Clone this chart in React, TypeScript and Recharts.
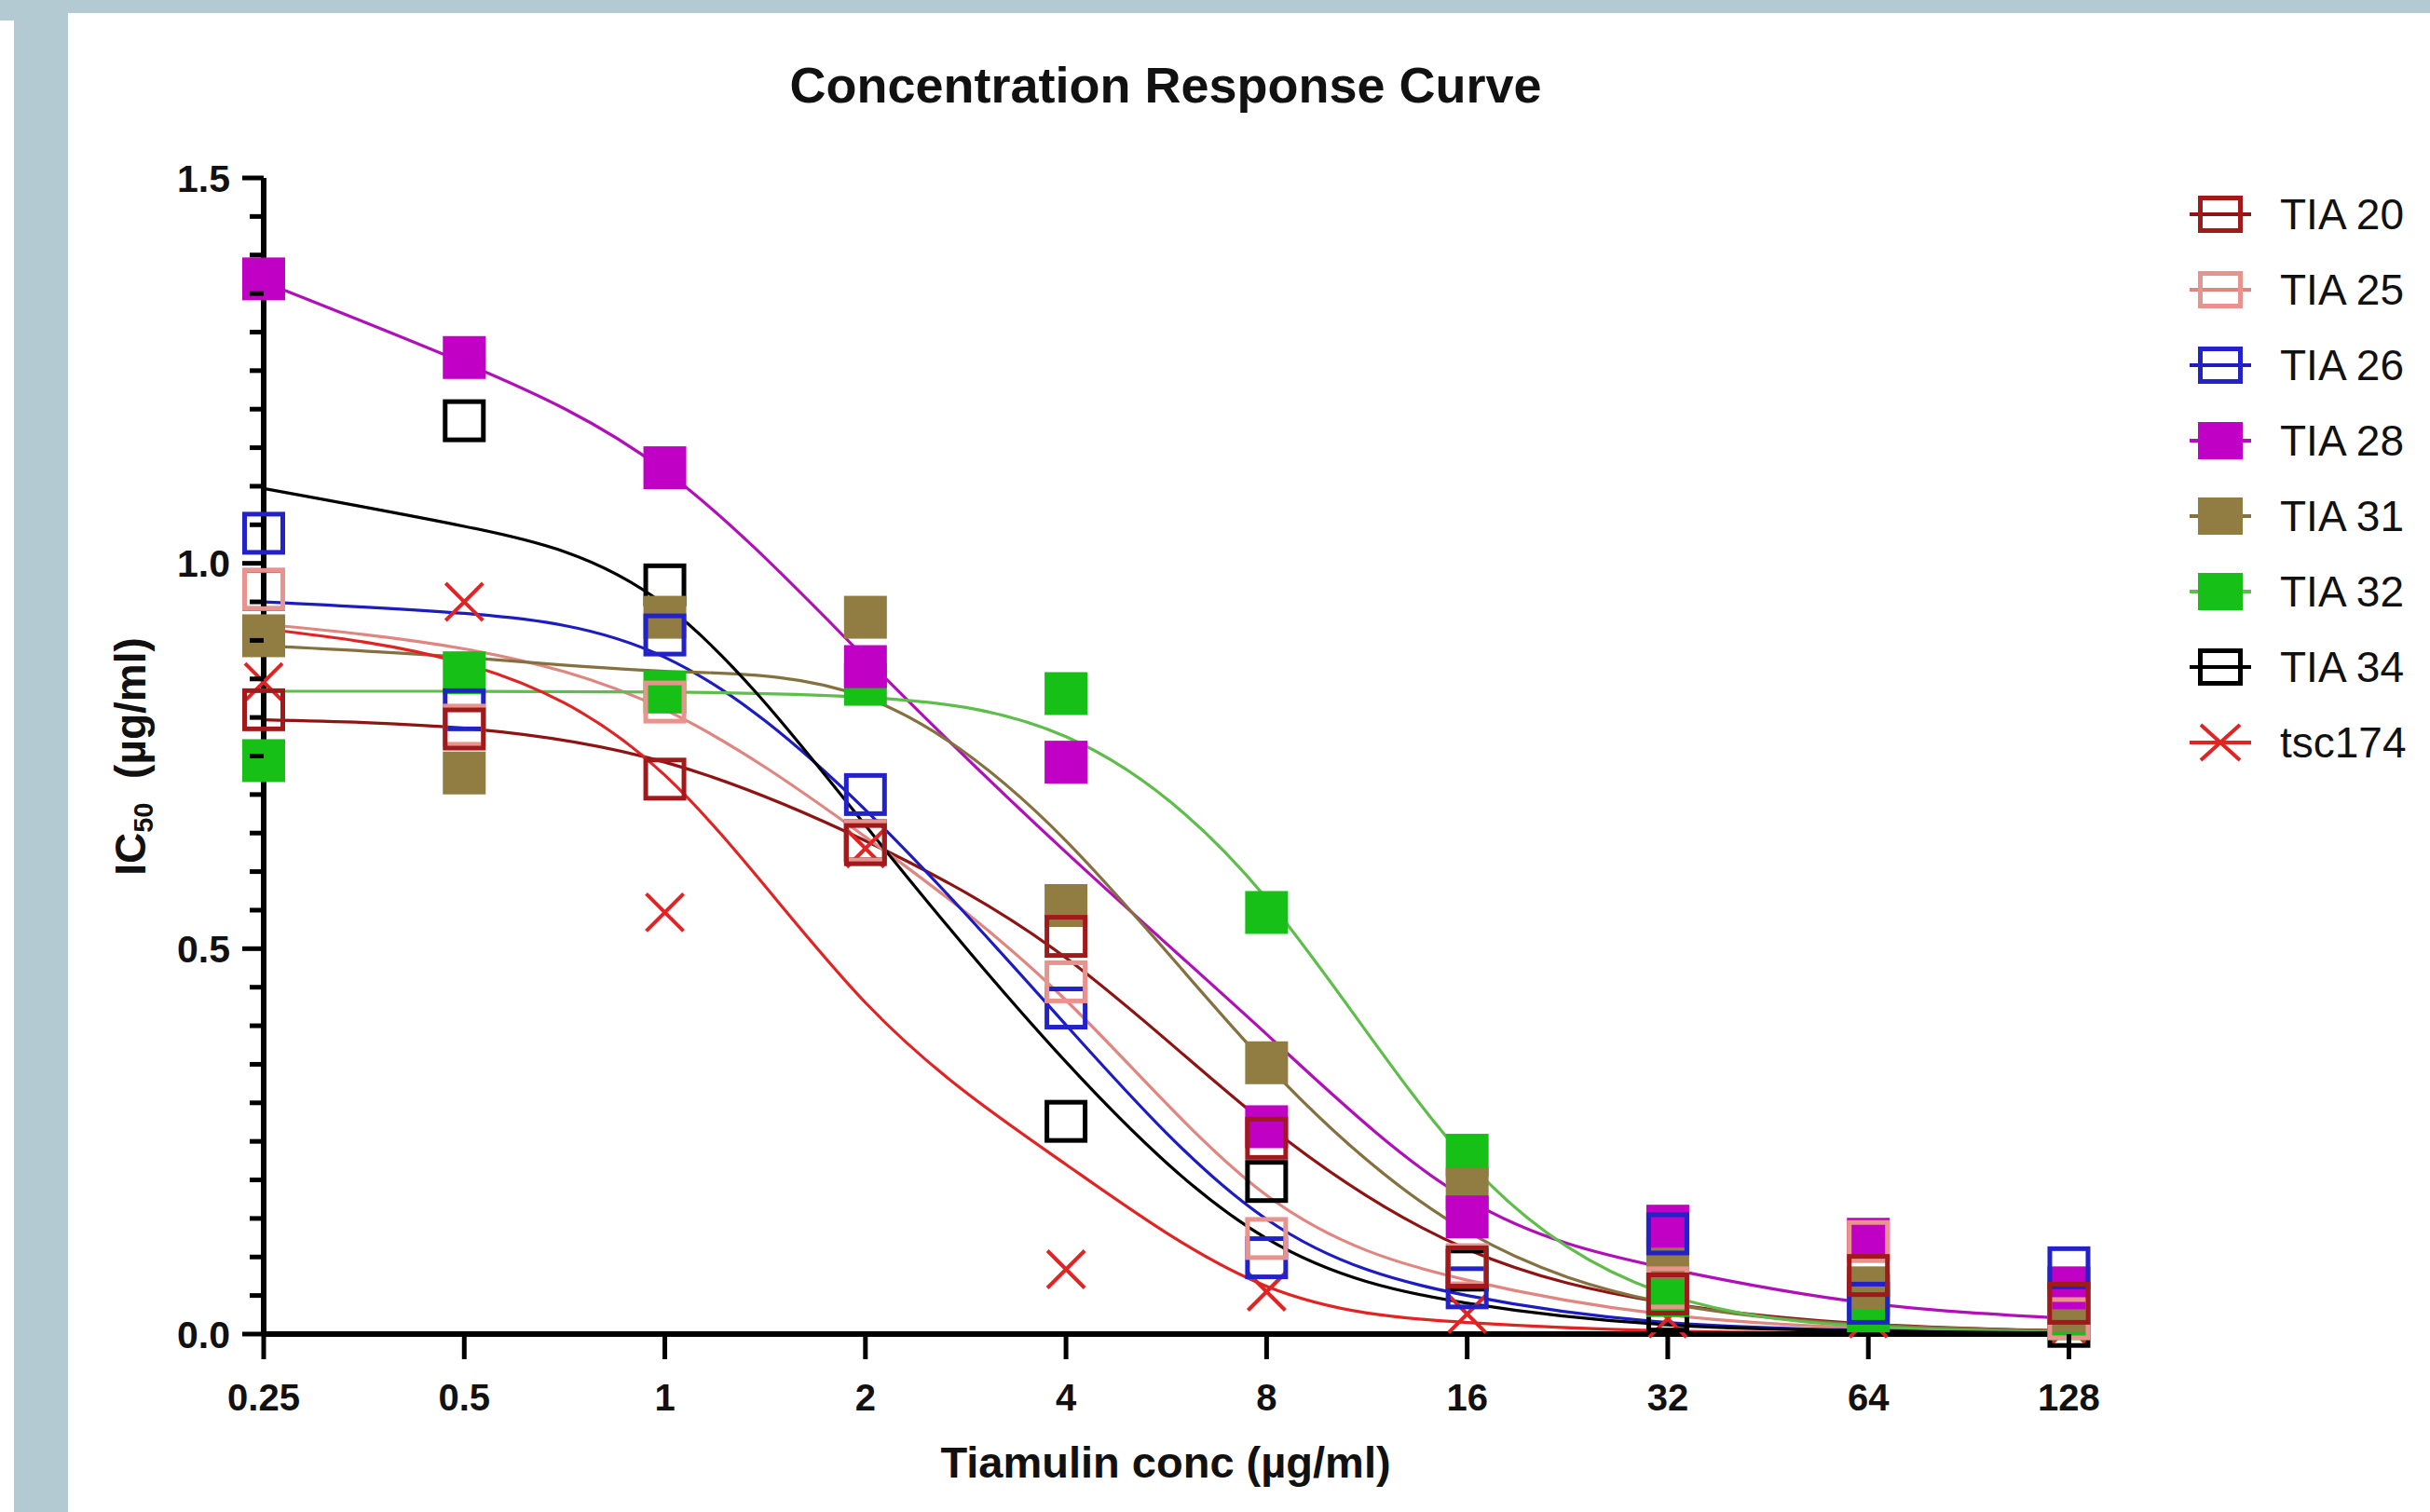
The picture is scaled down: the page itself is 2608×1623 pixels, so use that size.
import React from 'react';
import { ComposedChart, Line, Scatter, XAxis, YAxis, Legend } from 'recharts';

// concentration steps (µg/ml), plotted at equal log2 spacing
const concLabels = ['0.25', '0.5', '1', '2', '4', '8', '16', '32', '64', '128'];
const xTicks = [0, 1, 2, 3, 4, 5, 6, 7, 8, 9];
const yTicks = [
  0, 0.05, 0.1, 0.15, 0.2, 0.25, 0.3, 0.35, 0.4, 0.45, 0.5, 0.55, 0.6, 0.65, 0.7, 0.75,
  0.8, 0.85, 0.9, 0.95, 1, 1.05, 1.1, 1.15, 1.2, 1.25, 1.3, 1.35, 1.4, 1.45, 1.5,
];

// measured points
const tia20Obs = [0.81, 0.785, 0.72, 0.635, 0.516, 0.254, 0.087, 0.052, 0.076, 0.04];
const tia25Obs = [0.966, 0.79, 0.82, 0.64, 0.457, 0.124, 0.09, 0.06, 0.12, 0.02];
const tia26Obs = [1.039, 0.81, 0.907, 0.7, 0.423, 0.099, 0.06, 0.13, 0.04, 0.086];
const tia28Obs = [1.369, 1.267, 1.124, 0.866, 0.742, 0.269, 0.152, 0.14, 0.123, 0.06];
const tia31Obs = [0.906, 0.728, 0.93, 0.93, 0.556, 0.352, 0.188, 0.099, 0.06, 0.03];
const tia32Obs = [0.744, 0.858, 0.833, 0.843, 0.831, 0.547, 0.232, 0.05, 0.03, 0.02];
const tia34Obs = [0.966, 1.185, 0.972, 0.64, 0.276, 0.198, 0.083, 0.03, 0.05, 0.01];
const tscObs = [0.846, 0.95, 0.547, 0.63, 0.084, 0.055, 0.026, 0.02, 0.02, 0.01];

// fitted curves, read at each concentration step
const tia20Fit = [0.797, 0.786, 0.742, 0.64, 0.488, 0.272, 0.11, 0.04, 0.013, 0.004];
const tia25Fit = [0.921, 0.889, 0.81, 0.645, 0.433, 0.18, 0.07, 0.025, 0.008, 0.003];
const tia26Fit = [0.95, 0.935, 0.878, 0.68, 0.401, 0.149, 0.05, 0.015, 0.005, 0.002];
const tia28Fit = [1.365, 1.26, 1.12, 0.877, 0.625, 0.389, 0.175, 0.085, 0.04, 0.02];
const tia31Fit = [0.893, 0.878, 0.86, 0.826, 0.64, 0.35, 0.133, 0.04, 0.012, 0.004];
const tia32Fit = [0.834, 0.834, 0.833, 0.826, 0.775, 0.565, 0.225, 0.051, 0.01, 0.002];
const tia34Fit = [1.097, 1.048, 0.946, 0.66, 0.353, 0.124, 0.04, 0.012, 0.004, 0.001];
const tscFit = [0.915, 0.87, 0.725, 0.43, 0.22, 0.062, 0.015, 0.004, 0.001, 0];

type Marker = 'open' | 'filled' | 'x';

const series: { name: string; color: string; lineColor: string; marker: Marker; obs: number[]; fit: number[] }[] = [
  { name: 'TIA 20', color: '#a01a1c', lineColor: '#8e1414', marker: 'open', obs: tia20Obs, fit: tia20Fit },
  { name: 'TIA 25', color: '#e8938e', lineColor: '#e08680', marker: 'open', obs: tia25Obs, fit: tia25Fit },
  { name: 'TIA 26', color: '#2222c8', lineColor: '#1c1cc0', marker: 'open', obs: tia26Obs, fit: tia26Fit },
  { name: 'TIA 28', color: '#c000c4', lineColor: '#b010b8', marker: 'filled', obs: tia28Obs, fit: tia28Fit },
  { name: 'TIA 31', color: '#917c42', lineColor: '#857040', marker: 'filled', obs: tia31Obs, fit: tia31Fit },
  { name: 'TIA 32', color: '#16c016', lineColor: '#5fbd4c', marker: 'filled', obs: tia32Obs, fit: tia32Fit },
  { name: 'TIA 34', color: '#000000', lineColor: '#000000', marker: 'open', obs: tia34Obs, fit: tia34Fit },
  { name: 'tsc174', color: '#e02424', lineColor: '#e02424', marker: 'x', obs: tscObs, fit: tscFit },
];

const FONT = '"Liberation Sans", Arial, Helvetica, sans-serif';
const BAND = '#b3cad2';

const toPoints = (vals: number[]) => vals.map((y, i) => ({ x: i, y }));

const markerShape = (s: (typeof series)[number]) => (props: any) => {
  const { cx, cy } = props;
  if (cx == null || cy == null) return <g />;
  if (s.marker === 'x') {
    return (
      <g stroke={s.color} strokeWidth={4}>
        <line x1={cx - 20} y1={cy - 20} x2={cx + 20} y2={cy + 20} />
        <line x1={cx - 20} y1={cy + 20} x2={cx + 20} y2={cy - 20} />
      </g>
    );
  }
  if (s.marker === 'filled') {
    return <rect x={cx - 23} y={cy - 23} width={46} height={46} fill={s.color} />;
  }
  return <rect x={cx - 20.5} y={cy - 20.5} width={41} height={41} fill="none" stroke={s.color} strokeWidth={5} />;
};

const XTick = (props: any) => {
  const { x, y, payload } = props;
  return (
    <g>
      <line x1={x} x2={x} y1={y} y2={y + 27} stroke="#000" strokeWidth={5} />
      <text x={x} y={y + 82} textAnchor="middle" fontSize={40} fontWeight="bold" fontFamily={FONT} fill="#111">
        {concLabels[payload.value]}
      </text>
    </g>
  );
};

const YTick = (props: any) => {
  const { x, y, payload } = props;
  const v = payload.value as number;
  const major = Math.abs(v * 2 - Math.round(v * 2)) < 1e-6;
  return (
    <g>
      <line x1={x - (major ? 23 : 15)} x2={x} y1={y} y2={y} stroke="#000" strokeWidth={5} />
      {major && (
        <text x={x - 36} y={y} dy="0.36em" textAnchor="end" fontSize={41} fontWeight="bold" fontFamily={FONT} fill="#111">
          {v.toFixed(1)}
        </text>
      )}
    </g>
  );
};

const legendIcon = (s: (typeof series)[number]) => {
  const c = 45;
  const m = 28;
  const line = <line x1={c - 33} x2={c + 33} y1={m} y2={m} stroke={s.lineColor} strokeWidth={4} />;
  if (s.marker === 'x') {
    return (
      <g stroke={s.color} strokeWidth={4}>
        {line}
        <line x1={c - 21} y1={m - 19} x2={c + 21} y2={m + 19} />
        <line x1={c - 21} y1={m + 19} x2={c + 21} y2={m - 19} />
      </g>
    );
  }
  return (
    <g>
      {line}
      {s.marker === 'filled' ? (
        <rect x={c - 24} y={m - 20} width={48} height={40} fill={s.color} />
      ) : (
        <rect x={c - 21.5} y={m - 17.5} width={43} height={35} fill="none" stroke={s.color} strokeWidth={5} />
      )}
    </g>
  );
};

const LegendBox = () => (
  <div style={{ fontFamily: FONT, fontSize: 46, color: '#111' }}>
    {series.map((s) => (
      <div key={s.name} style={{ height: 80.9, display: 'flex', alignItems: 'center' }}>
        <svg width={90} height={56} style={{ display: 'block' }}>
          {legendIcon(s)}
        </svg>
        <span style={{ marginLeft: 19, lineHeight: 1 }}>{s.name}</span>
      </div>
    ))}
  </div>
);

export default function App() {
  return (
    <div
      style={{
        position: 'absolute',
        left: 0,
        top: 0,
        width: 2608,
        height: 1623,
        background: '#fff',
        overflow: 'hidden',
        fontFamily: FONT,
      }}
    >
      {/* slide frame bands */}
      <div style={{ position: 'absolute', left: 0, top: 0, width: 2608, height: 14, background: BAND }} />
      <div style={{ position: 'absolute', left: 0, top: 0, width: 15, height: 22, background: BAND }} />
      <div style={{ position: 'absolute', left: 15, top: 0, width: 58, height: 1623, background: BAND }} />

      <div
        style={{
          position: 'absolute',
          left: 0,
          width: 2502,
          top: 61,
          height: 60,
          lineHeight: '60px',
          textAlign: 'center',
          fontSize: 54,
          fontWeight: 'bold',
          color: '#111',
        }}
      >
        Concentration Response Curve
      </div>

      <div style={{ position: 'absolute', left: 0, top: 0 }}>
        <ComposedChart width={2608} height={1623} margin={{ top: 191, right: 366, bottom: 91, left: 133 }}>
          <XAxis
            type="number"
            dataKey="x"
            domain={[0, 9.1]}
            ticks={xTicks}
            interval={0}
            tickSize={0}
            tickMargin={0}
            height={100}
            axisLine={{ stroke: '#000', strokeWidth: 6 }}
            tickLine={false}
            tick={<XTick />}
          />
          <YAxis
            type="number"
            dataKey="y"
            domain={[0, 1.5]}
            ticks={yTicks}
            interval={0}
            tickSize={0}
            tickMargin={0}
            width={150}
            axisLine={{ stroke: '#000', strokeWidth: 6 }}
            tickLine={false}
            tick={<YTick />}
          />
          {series.map((s) => (
            <Line
              key={'fit-' + s.name}
              data={toPoints(s.fit)}
              dataKey="y"
              type="natural"
              stroke={s.lineColor}
              strokeWidth={3.2}
              dot={false}
              activeDot={false}
              isAnimationActive={false}
              legendType="none"
            />
          ))}
          {[...series].reverse().map((s) => (
            <Scatter
              key={'obs-' + s.name}
              name={s.name}
              data={toPoints(s.obs)}
              dataKey="y"
              shape={markerShape(s)}
              isAnimationActive={false}
            />
          ))}
          <Legend
            layout="vertical"
            align="center"
            verticalAlign="middle"
            wrapperStyle={{ left: 2338, top: 190, width: 270 }}
            content={() => <LegendBox />}
          />
        </ComposedChart>
      </div>

      <div
        style={{
          position: 'absolute',
          left: 0,
          width: 2502,
          top: 1540,
          height: 60,
          lineHeight: '60px',
          textAlign: 'center',
          fontSize: 47,
          fontWeight: 'bold',
          color: '#111',
        }}
      >
        Tiamulin conc (µg/ml)
      </div>

      <div
        style={{
          position: 'absolute',
          left: 140 - 200,
          top: 812 - 30,
          width: 400,
          height: 60,
          lineHeight: '60px',
          textAlign: 'center',
          fontSize: 46,
          fontWeight: 'bold',
          color: '#111',
          transform: 'rotate(-90deg)',
          whiteSpace: 'pre',
        }}
      >
        IC<sub style={{ fontSize: 29, verticalAlign: 'baseline', position: 'relative', top: 8 }}>50</sub>
        {'  (µg/ml)'}
      </div>
    </div>
  );
}
